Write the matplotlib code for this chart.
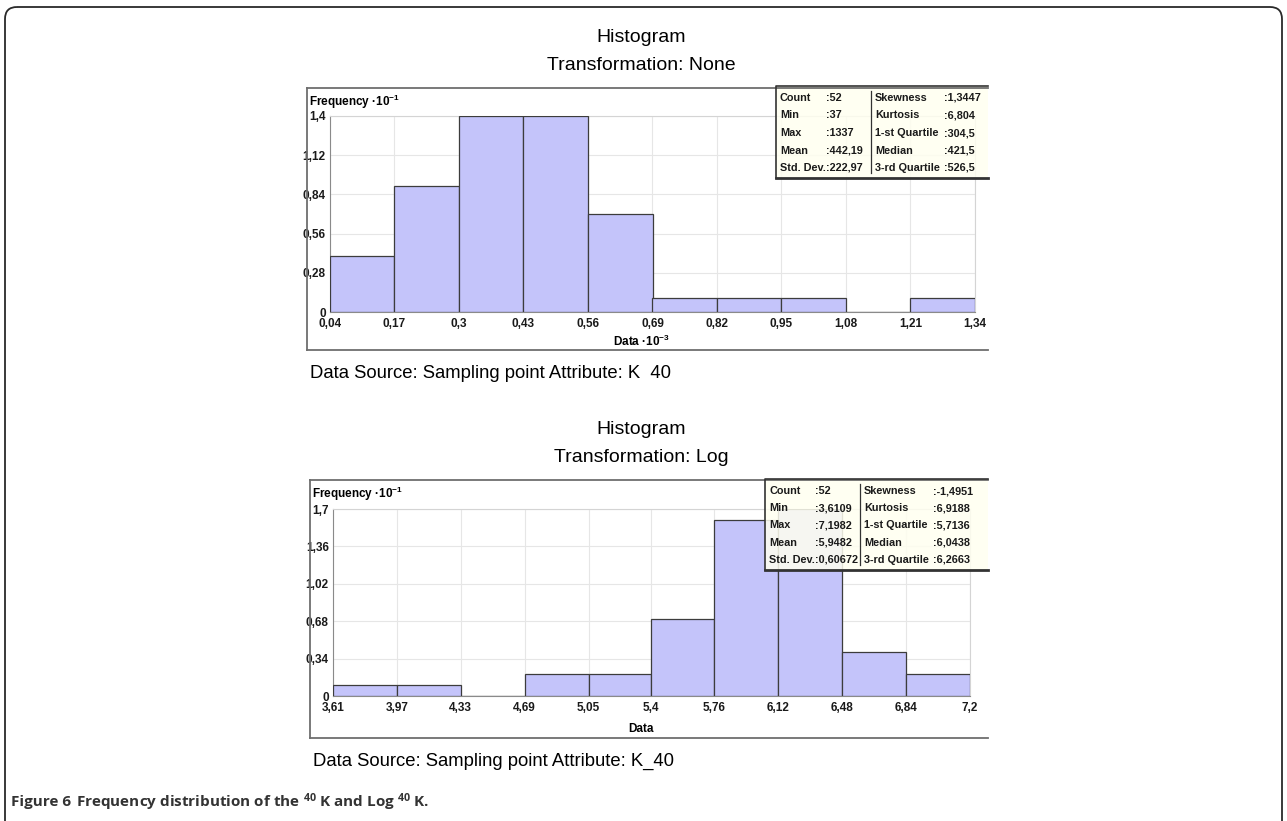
import matplotlib
matplotlib.use('Agg')
import matplotlib.pyplot as plt
from matplotlib.patches import FancyBboxPatch, Rectangle

FONT = 'Liberation Sans'
plt.rcParams['mathtext.default'] = 'regular'

# raw data histogram (Data x 10^-3, Frequency x 10^-1)
top_edges = [0.04, 0.17, 0.30, 0.43, 0.56, 0.69, 0.82, 0.95, 1.08, 1.21, 1.34]
top_edge_labels = ['0,04', '0,17', '0,3', '0,43', '0,56', '0,69', '0,82', '0,95', '1,08', '1,21', '1,34']
top_freq = [0.4, 0.9, 1.4, 1.4, 0.7, 0.1, 0.1, 0.1, 0.0, 0.1]
top_yticks = [0, 0.28, 0.56, 0.84, 1.12, 1.4]
top_ylabels = ['0', '0,28', '0,56', '0,84', '1,12', '1,4']
top_stats_left = [('Count', ':52'), ('Min', ':37'), ('Max', ':1337'), ('Mean', ':442,19'), ('Std. Dev.', ':222,97')]
top_stats_right = [('Skewness', ':1,3447'), ('Kurtosis', ':6,804'), ('1-st Quartile', ':304,5'),
                   ('Median', ':421,5'), ('3-rd Quartile', ':526,5')]

# log transformed histogram
log_edges = [3.61, 3.97, 4.33, 4.69, 5.05, 5.40, 5.76, 6.12, 6.48, 6.84, 7.20]
log_edge_labels = ['3,61', '3,97', '4,33', '4,69', '5,05', '5,4', '5,76', '6,12', '6,48', '6,84', '7,2']
log_freq = [0.1, 0.1, 0.0, 0.2, 0.2, 0.7, 1.6, 1.7, 0.4, 0.2]
log_yticks = [0, 0.34, 0.68, 1.02, 1.36, 1.7]
log_ylabels = ['0', '0,34', '0,68', '1,02', '1,36', '1,7']
log_stats_left = [('Count', ':52'), ('Min', ':3,6109'), ('Max', ':7,1982'), ('Mean', ':5,9482'), ('Std. Dev.', ':0,60672')]
log_stats_right = [('Skewness', ':-1,4951'), ('Kurtosis', ':6,9188'), ('1-st Quartile', ':5,7136'),
                   ('Median', ':6,0438'), ('3-rd Quartile', ':6,2663')]

W, H = 1287, 821
fig = plt.figure(figsize=(W / 100, H / 100), dpi=100)


def px_axes(left, top, right, bottom, **kw):
    return fig.add_axes([left / W, 1 - bottom / H, (right - left) / W, (bottom - top) / H], **kw)


def draw_hist(ax, edges, freq, xlabels, yticks, ylabels):
    widths = [b - a for a, b in zip(edges[:-1], edges[1:])]
    ax.bar(edges[:-1], freq, width=widths, align='edge', color='#c4c4fa',
           edgecolor='#3c3c3c', linewidth=0.9, zorder=3)
    ax.set_xlim(edges[0], edges[-1])
    ax.set_ylim(0, yticks[-1])
    ax.set_xticks(edges, xlabels)
    ax.set_yticks(yticks, ylabels)
    ax.tick_params(length=0, labelsize=8.5, colors='#1a1a1a')
    ax.tick_params(axis='x', pad=4)
    ax.tick_params(axis='y', pad=3)
    for lab in ax.get_xticklabels() + ax.get_yticklabels():
        lab.set_fontfamily(FONT)
        lab.set_fontweight('bold')
    ax.grid(color='#e6e6e6', linewidth=0.8, zorder=0)
    for s in ['left', 'bottom']:
        ax.spines[s].set_color('#8a8a8a')
    for s in ['top', 'right']:
        ax.spines[s].set_color('#d4d4d4')


ax1 = px_axes(330, 116, 975, 312)
draw_hist(ax1, top_edges, top_freq, top_edge_labels, top_yticks, top_ylabels)
ax2 = px_axes(333, 509, 970, 696)
draw_hist(ax2, log_edges, log_freq, log_edge_labels, log_yticks, log_ylabels)

# overlay in pixel coordinates for frame, titles and stats boxes
bg = fig.add_axes([0, 0, 1, 1], zorder=5)
bg.set_xlim(0, W)
bg.set_ylim(H, 0)
bg.axis('off')
bg.patch.set_alpha(0)

bg.add_patch(FancyBboxPatch((5, 7), 1277, 900, boxstyle='round,pad=0,rounding_size=12',
                            fc='none', ec='#2a2a2a', lw=1.3))


def panel(left, top, bottom, right, title, xlabel, source, stats_l, stats_r, bx, by, bh):
    bg.plot([left, right], [top, top], color='#6e6e6e', lw=1.3)
    bg.plot([left, left], [top, bottom], color='#6e6e6e', lw=1.3)
    bg.plot([left, right], [bottom, bottom], color='#6e6e6e', lw=1.3)
    bg.text(641, top - 51, 'Histogram', ha='center', va='center', fontsize=14, family=FONT)
    bg.text(641, top - 23, title, ha='center', va='center', fontsize=14, family=FONT)
    bg.text(left + 2, top + 14, 'Frequency ·10$^{-1}$', ha='left', va='center', fontsize=8.5,
            family=FONT, weight='bold')
    bg.text(641, bottom - 9, xlabel, ha='center', va='center', fontsize=8.5, family=FONT, weight='bold')
    bg.text(left + 3, bottom + 23, source, ha='left', va='center', fontsize=13.3, family=FONT)
    # stats box
    bw = right - bx
    bg.add_patch(Rectangle((bx, by), bw, bh, fc='#fffff0', alpha=0.85, ec='none'))
    bg.plot([bx, bx, right], [by + bh, by, by], color='#333333', lw=1.2)
    bg.plot([bx, right], [by + bh, by + bh], color='#333333', lw=2.0)
    bg.plot([bx + 95, bx + 95], [by + 5, by + bh - 5], color='#333333', lw=0.9)
    step = (bh - 22) / 4
    kw = dict(ha='left', va='baseline', fontsize=7.8, family=FONT, weight='bold', color='#1a1a1a')
    for i, ((la, va), (lb, vb)) in enumerate(zip(stats_l, stats_r)):
        y = by + 15 + i * step
        bg.text(bx + 4, y, la, **kw)
        bg.text(bx + 50, y, va, **kw)
        bg.text(bx + 99, y, lb, **kw)
        bg.text(bx + 168, y, vb, **kw)


panel(307, 88, 350, 988, 'Transformation: None', 'Data ·10$^{-3}$',
      'Data Source: Sampling point Attribute: K  40', top_stats_left, top_stats_right, 776, 86, 92)
panel(310, 480, 738, 988, 'Transformation: Log', 'Data',
      'Data Source: Sampling point Attribute: K_40', log_stats_left, log_stats_right, 765, 479, 91)

bg.text(11, 802, 'Figure 6', ha='left', va='center', fontsize=11, family='Open Sans',
        weight='bold', color='#333333')
bg.text(76, 802, 'Frequency distribution of the $^{40}$ K and Log $^{40}$ K.', ha='left', va='center',
        fontsize=11, family='Open Sans', weight='bold', color='#333333')

fig.savefig('out.png', dpi=100)
